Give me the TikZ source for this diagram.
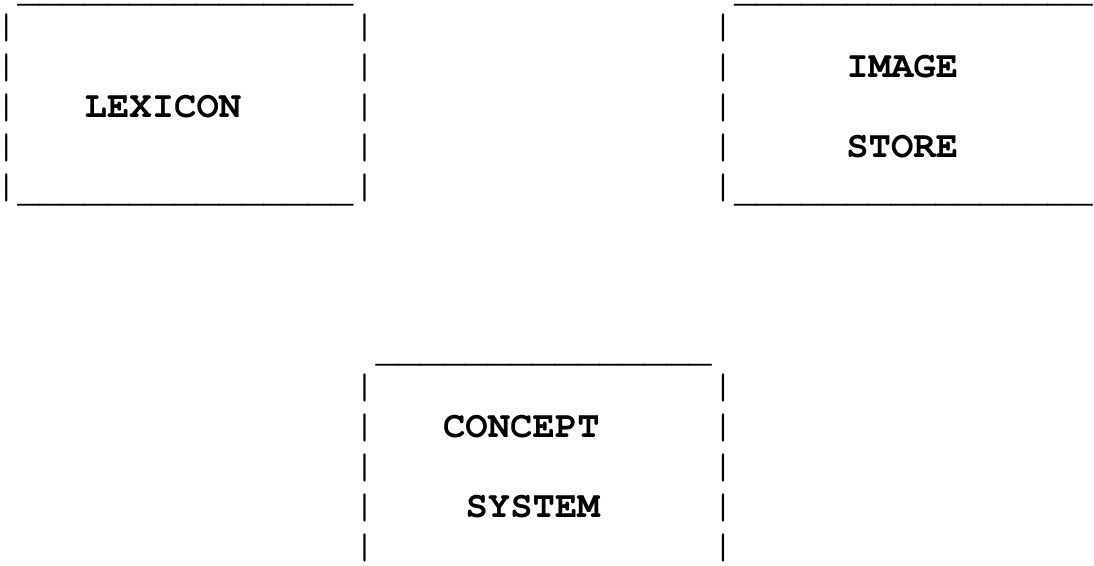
\documentclass[tikz,border=0pt]{standalone}
\usepackage[T1]{fontenc}
\usepackage{graphicx}
\usetikzlibrary{positioning}

\newcommand{\underscores}[1]{\foreach \k in {1,...,#1}{\_}}
\newsavebox{\barbox}
\newcommand{\tallbar}{%
  \sbox{\barbox}{|}%
  \makebox[\wd\barbox]{\raisebox{-8.7pt}{\resizebox*{0.6\wd\barbox}{37pt}{\raisebox{\dp\barbox}{\usebox{\barbox}}}}}}

\begin{document}
\begin{tikzpicture}[
  x=22.4pt, y=-40pt,
  glyph/.style={font=\fontfamily{pcr}\bfseries\fontsize{37.3}{40}\selectfont, inner sep=0pt, anchor=base west},
  rulerow/.style={glyph, font=\fontfamily{pcr}\mdseries\fontsize{37.3}{40}\selectfont, yshift=-4pt},
]
\useasboundingbox (0pt,0pt) rectangle (1094pt,-565pt);

\begin{scope}[shift={(-5.1pt,2.7pt)}]
% box tops and bottoms
\node[rulerow] (lexTop) at (1,0) {\underscores{15}};
\node[rulerow] (imgTop) at (33,0) {\underscores{16}};
\node[rulerow] (lexBot) at (1,5) {\underscores{15}};
\node[rulerow] (imgBot) at (33,5) {\underscores{16}};
\node[rulerow] (conTop) at (17,9) {\underscores{15}};

% box sides
\foreach \r in {1,...,5}{
  \node[glyph] (lexL\r) at (0,\r) {\tallbar};
  \node[glyph] (lexR\r) at (16,\r) {\tallbar};
  \node[glyph] (imgL\r) at (32,\r) {\tallbar};
}
\foreach \r in {10,...,14}{
  \node[glyph] (conL\r) at (16,\r) {\tallbar};
  \node[glyph] (conR\r) at (32,\r) {\tallbar};
}

% labels
\node[glyph] (lexicon) at (4,3) {LEXICON};
\node[glyph] (image) at (38,2) {IMAGE};
\node[glyph] (store) at (38,4) {STORE};
\node[glyph] (concept) at (20,11) {CONCEPT};
\node[glyph] (system) at (21,13) {SYSTEM};
\end{scope}

\end{tikzpicture}
\end{document}
